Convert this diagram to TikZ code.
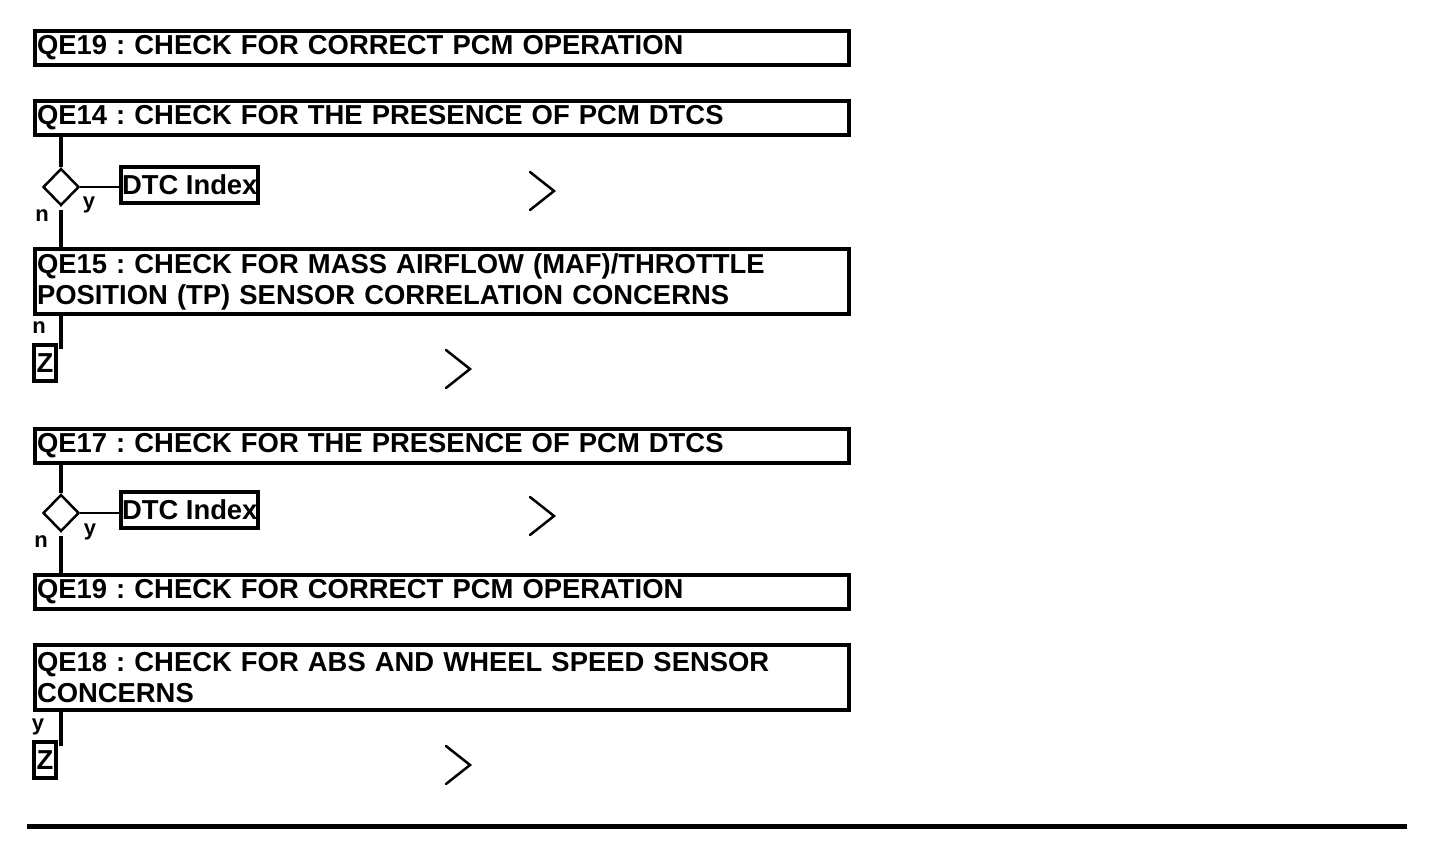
\documentclass[tikz,border=0pt]{standalone}
\usepackage{fontspec}
\setmainfont{Liberation Sans}
\frenchspacing
\usetikzlibrary{shapes.geometric}
\begin{document}
\begin{tikzpicture}[x=1pt, y=-1pt,
    qbox/.style={draw, line width=4pt, anchor=north west, minimum width=814pt, minimum height=34pt, text width=810pt, inner xsep=2pt, inner ysep=0pt, align=left, font=\bfseries\fontsize{27.4}{31}\selectfont},
    tallbox/.style={qbox, minimum height=65pt},
    linkbox/.style={draw, line width=4pt, inner xsep=1pt, inner ysep=0pt, minimum height=36pt, font=\bfseries\fontsize{27.4}{31}\selectfont},
    zbox/.style={linkbox, minimum width=22pt},
    query/.style={diamond, draw, line width=2.5pt, inner sep=0pt, minimum width=36pt, minimum height=37pt},
    lbl/.style={inner sep=0pt, font=\bfseries\fontsize{22}{24}\selectfont},
    trunk/.style={line width=4pt},
    tick/.style={line width=2pt},
    chev/.style={line width=2.5pt, line cap=round}]
      \useasboundingbox (0,0) rectangle (1440,866);

      % Nodes
      \node[qbox] at (33,29) (q1) {QE19 : CHECK FOR CORRECT PCM OPERATION};
      \node[qbox] at (33,99) (q2) {QE14 : CHECK FOR THE PRESENCE OF PCM DTCS};
      \node[query] at (61,187) (d1) {};
      \node[linkbox, anchor=west] at (119,185) (dtc1) {DTC Index};
      \node[tallbox] at (33,247) (q3) {QE15 : CHECK FOR MASS AIRFLOW (MAF)/THROTTLE\\POSITION (TP) SENSOR CORRELATION CONCERNS};
      \node[zbox] at (45,363.5) (z1) {Z};
      \node[qbox] at (33,427) (q4) {QE17 : CHECK FOR THE PRESENCE OF PCM DTCS};
      \node[query] at (61,513) (d2) {};
      \node[linkbox, anchor=west] at (119,510) (dtc2) {DTC Index};
      \node[qbox] at (33,573) (q5) {QE19 : CHECK FOR CORRECT PCM OPERATION};
      \node[tallbox] at (33,643) (q6) {QE18 : CHECK FOR ABS AND WHEEL SPEED SENSOR\\CONCERNS};
      \node[zbox] at (45,760) (z2) {Z};

      % Labels
      \node[lbl] at (42,216) (n1) {n};
      \node[lbl] at (89,205) (y1) {y};
      \node[lbl] at (39,328) (n2) {n};
      \node[lbl] at (41,542) (n3) {n};
      \node[lbl] at (90,532) (y2) {y};
      \node[lbl] at (38,727) (y3) {y};

      % Connectors
      \coordinate (e1) at (61,349);
      \coordinate (e2) at (61,746);
      \draw[trunk] (q2.south -| d1) -- (d1.north);
      \draw[trunk, shorten <=3pt] (d1.south) -- (d1 |- q3.north);
      \draw[tick] (d1.east) -- (d1.east -| dtc1.west);
      \draw[trunk] (q3.south -| e1) -- (e1);
      \draw[trunk] (q4.south -| d2) -- (d2.north);
      \draw[trunk, shorten <=3pt] (d2.south) -- (d2 |- q5.north);
      \draw[tick] (d2.east) -- (d2.east -| dtc2.west);
      \draw[trunk] (q6.south -| e2) -- (e2);

      % Chevrons
      \foreach \cx/\cy in {554/191, 470/369, 554/516, 470/765}
        \draw[chev] (\cx-24,\cy-19) -- (\cx,\cy) -- (\cx-24,\cy+19);

      \draw[line width=5pt] (27,826.5) -- (1407,826.5);
    \end{tikzpicture}
\end{document}
